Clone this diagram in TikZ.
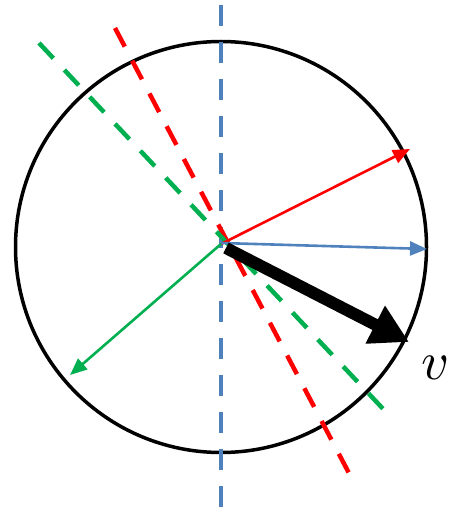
\documentclass[tikz,border=0pt]{standalone}
\usetikzlibrary{arrows.meta}
\definecolor{myred}{RGB}{255,0,0}
\definecolor{myblue}{RGB}{79,129,189}
\definecolor{mygreen}{RGB}{0,176,80}
\begin{document}
\begin{tikzpicture}[x=1pt,y=-1pt,
  dashline/.style={line width=4.5pt, dash pattern=on 21pt off 16pt},
  vecarrow/.style={line width=2.6pt, -{Triangle[length=17pt,width=14pt]}},
]
\useasboundingbox (0,0) rectangle (452,513);
\coordinate (O) at (221,244);
\coordinate (bt) at (221,5);
\coordinate (bb) at (221,508);
\coordinate (rt) at (115,28);
\coordinate (rb) at (351,477);
\coordinate (gt) at (39,43);
\coordinate (gb) at (386,412);
\coordinate (redtip) at (410,149);
\coordinate (bluetip) at (427,249);
\coordinate (greentip) at (70,375);
\coordinate (blackstart) at (226,248);
\coordinate (blacktip) at (409,342);
\node[draw, line width=3.5pt, circle, minimum size=411pt, inner sep=0pt] (C) at (221,247) {};
\draw[dashline, myblue] (bt) -- (bb);
\draw[dashline, myred] (rt) -- (rb);
\draw[dashline, mygreen] (gt) -- (gb);
\draw[vecarrow, myred] (O) -- (redtip);
\draw[vecarrow, myblue] (221,243) -- (bluetip);
\draw[vecarrow, mygreen] (O) -- (greentip);
\draw[line width=12pt, -{Triangle[length=38pt,width=40pt]}] (blackstart) -- (blacktip);
\node[inner sep=0pt, scale=5.4] (v) at (436,368) {$v$};
\end{tikzpicture}
\end{document}
